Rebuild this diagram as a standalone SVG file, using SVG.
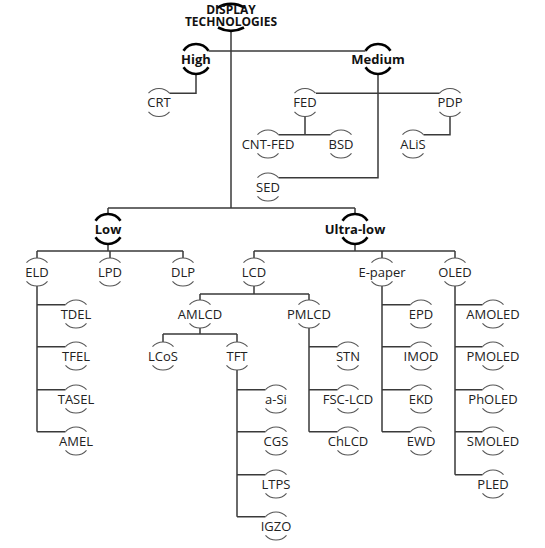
<svg xmlns="http://www.w3.org/2000/svg" xmlns:xlink="http://www.w3.org/1999/xlink" width="545" height="548" viewBox="0 0 545 548">
<style>
.t{font-family:"Open Sans","Noto Sans","Liberation Sans",sans-serif;font-size:13px;fill:#222;text-anchor:middle}
.b{font-family:"Open Sans","Noto Sans","Liberation Sans",sans-serif;font-size:13px;font-weight:bold;fill:#111;text-anchor:middle}
.r{font-family:"Open Sans","Noto Sans","Liberation Sans",sans-serif;font-size:12px;font-weight:bold;fill:#111;text-anchor:middle}
.cap{fill:none;stroke:#555;stroke-width:1.1}
.bcap{fill:none;stroke:#000;stroke-width:2.6}
.ln{fill:none;stroke:#3a3a3a;stroke-width:1.5}
</style>
<defs>
<path id="c" d="M-10.5,-9.3 A14,14 0 0 1 10.5,-9.3 M-10.5,9.3 A14,14 0 0 0 10.5,9.3"/>
<path id="bc" d="M-12.5,-8.3 A15,15 0 0 1 12.5,-8.3 M-12.5,8.3 A15,15 0 0 0 12.5,8.3"/>
</defs>
<rect width="545" height="548" fill="#fff"/>
<g id="connectors" class="ln">
<path d="M231,31V208"/>
<path d="M208.5,51H365.5"/>
<path d="M196,74V93.2H169.5"/>
<path d="M378,74V177.7H278.5"/>
<path d="M316,93.2H439.5"/>
<path d="M305,116.5V134.7M278.5,134.7H330.5"/>
<path d="M450,116.5V134.7H423.5"/>
<path d="M108,208H355M108,208V214M355,208V214"/>
<path d="M108,244V251M37,251H183M37,251V258M110,251V258M183,251V258"/>
<path d="M355,244V251M254,251H455M254,251V258M382,251V258M455,251V258"/>
<path d="M37,286V431.7M37,304.7H65.5M37,346.7H65.5M37,389.7H65.5M37,431.7H65.5"/>
<path d="M254,286V294M200,294H309M200,294V300M309,294V300"/>
<path d="M200,328V334M163,334H237M163,334V342M237,334V342"/>
<path d="M237,370V516.7M237,389.7H265.5M237,431.7H265.5M237,474.7H265.5M237,516.7H265.5"/>
<path d="M309,328V431.7M309,346.7H337.5M309,389.7H337.5M309,431.7H337.5"/>
<path d="M382,286V431.7M382,304.7H410.5M382,346.7H410.5M382,389.7H410.5M382,431.7H410.5"/>
<path d="M455,286V474.7M455,304.7H482.5M455,346.7H482.5M455,389.7H482.5M455,431.7H482.5M455,474.7H482.5"/>
</g>
<g id="root">
<path class="bcap" d="M217,8 A26,26 0 0 1 245,8"/>
<path class="bcap" d="M218,27.5 A28,28 0 0 0 244,27.5"/>
<text class="r" x="231" y="14.3"><tspan x="231" y="14.3">DISPLAY</tspan><tspan x="231" y="25.6">TECHNOLOGIES</tspan></text>
</g>
<g id="high"><use href="#bc" class="bcap" x="196" y="59"/><text class="b" x="196" y="63.7">High</text></g>
<g id="medium"><use href="#bc" class="bcap" x="378" y="59"/><text class="b" x="378" y="63.7">Medium</text></g>
<g id="low"><use href="#bc" class="bcap" x="108" y="229"/><text class="b" x="108" y="233.7">Low</text></g>
<g id="ultralow"><use href="#bc" class="bcap" x="355" y="229"/><text class="b" x="355" y="233.7">Ultra-low</text></g>
<g id="crt"><use href="#c" class="cap" x="159" y="102.5"/><text class="t" x="159" y="107.2">CRT</text></g>
<g id="fed"><use href="#c" class="cap" x="305" y="102.5"/><text class="t" x="305" y="107.2">FED</text></g>
<g id="pdp"><use href="#c" class="cap" x="450" y="102.5"/><text class="t" x="450" y="107.2">PDP</text></g>
<g id="cntfed"><use href="#c" class="cap" x="268" y="144"/><text class="t" x="268" y="148.7">CNT-FED</text></g>
<g id="bsd"><use href="#c" class="cap" x="341" y="144"/><text class="t" x="341" y="148.7">BSD</text></g>
<g id="alis"><use href="#c" class="cap" x="413" y="144"/><text class="t" x="413" y="148.7">ALiS</text></g>
<g id="sed"><use href="#c" class="cap" x="268" y="187"/><text class="t" x="268" y="191.7">SED</text></g>
<g id="eld"><use href="#c" class="cap" x="37" y="272"/><text class="t" x="37" y="276.7">ELD</text></g>
<g id="lpd"><use href="#c" class="cap" x="110" y="272"/><text class="t" x="110" y="276.7">LPD</text></g>
<g id="dlp"><use href="#c" class="cap" x="183" y="272"/><text class="t" x="183" y="276.7">DLP</text></g>
<g id="lcd"><use href="#c" class="cap" x="254" y="272"/><text class="t" x="254" y="276.7">LCD</text></g>
<g id="epaper"><use href="#c" class="cap" x="382" y="272"/><text class="t" x="382" y="276.7">E-paper</text></g>
<g id="oled"><use href="#c" class="cap" x="455" y="272"/><text class="t" x="455" y="276.7">OLED</text></g>
<g id="tdel"><use href="#c" class="cap" x="76" y="314"/><text class="t" x="76" y="318.7">TDEL</text></g>
<g id="tfel"><use href="#c" class="cap" x="76" y="356"/><text class="t" x="76" y="360.7">TFEL</text></g>
<g id="tasel"><use href="#c" class="cap" x="76" y="399"/><text class="t" x="76" y="403.7">TASEL</text></g>
<g id="amel"><use href="#c" class="cap" x="76" y="441"/><text class="t" x="76" y="445.7">AMEL</text></g>
<g id="amlcd"><use href="#c" class="cap" x="200" y="314"/><text class="t" x="200" y="318.7">AMLCD</text></g>
<g id="pmlcd"><use href="#c" class="cap" x="309" y="314"/><text class="t" x="309" y="318.7">PMLCD</text></g>
<g id="lcos"><use href="#c" class="cap" x="163" y="356"/><text class="t" x="163" y="360.7">LCoS</text></g>
<g id="tft"><use href="#c" class="cap" x="237" y="356"/><text class="t" x="237" y="360.7">TFT</text></g>
<g id="asi"><use href="#c" class="cap" x="276" y="399"/><text class="t" x="276" y="403.7">a-Si</text></g>
<g id="cgs"><use href="#c" class="cap" x="276" y="441"/><text class="t" x="276" y="445.7">CGS</text></g>
<g id="ltps"><use href="#c" class="cap" x="276" y="484"/><text class="t" x="276" y="488.7">LTPS</text></g>
<g id="igzo"><use href="#c" class="cap" x="276" y="526"/><text class="t" x="276" y="530.7">IGZO</text></g>
<g id="stn"><use href="#c" class="cap" x="348" y="356"/><text class="t" x="348" y="360.7">STN</text></g>
<g id="fsclcd"><use href="#c" class="cap" x="348" y="399"/><text class="t" x="348" y="403.7">FSC-LCD</text></g>
<g id="chlcd"><use href="#c" class="cap" x="348" y="441"/><text class="t" x="348" y="445.7">ChLCD</text></g>
<g id="epd"><use href="#c" class="cap" x="421" y="314"/><text class="t" x="421" y="318.7">EPD</text></g>
<g id="imod"><use href="#c" class="cap" x="421" y="356"/><text class="t" x="421" y="360.7">IMOD</text></g>
<g id="ekd"><use href="#c" class="cap" x="421" y="399"/><text class="t" x="421" y="403.7">EKD</text></g>
<g id="ewd"><use href="#c" class="cap" x="421" y="441"/><text class="t" x="421" y="445.7">EWD</text></g>
<g id="amoled"><use href="#c" class="cap" x="493" y="314"/><text class="t" x="493" y="318.7">AMOLED</text></g>
<g id="pmoled"><use href="#c" class="cap" x="493" y="356"/><text class="t" x="493" y="360.7">PMOLED</text></g>
<g id="pholed"><use href="#c" class="cap" x="493" y="399"/><text class="t" x="493" y="403.7">PhOLED</text></g>
<g id="smoled"><use href="#c" class="cap" x="493" y="441"/><text class="t" x="493" y="445.7">SMOLED</text></g>
<g id="pled"><use href="#c" class="cap" x="493" y="484"/><text class="t" x="493" y="488.7">PLED</text></g>
</svg>
